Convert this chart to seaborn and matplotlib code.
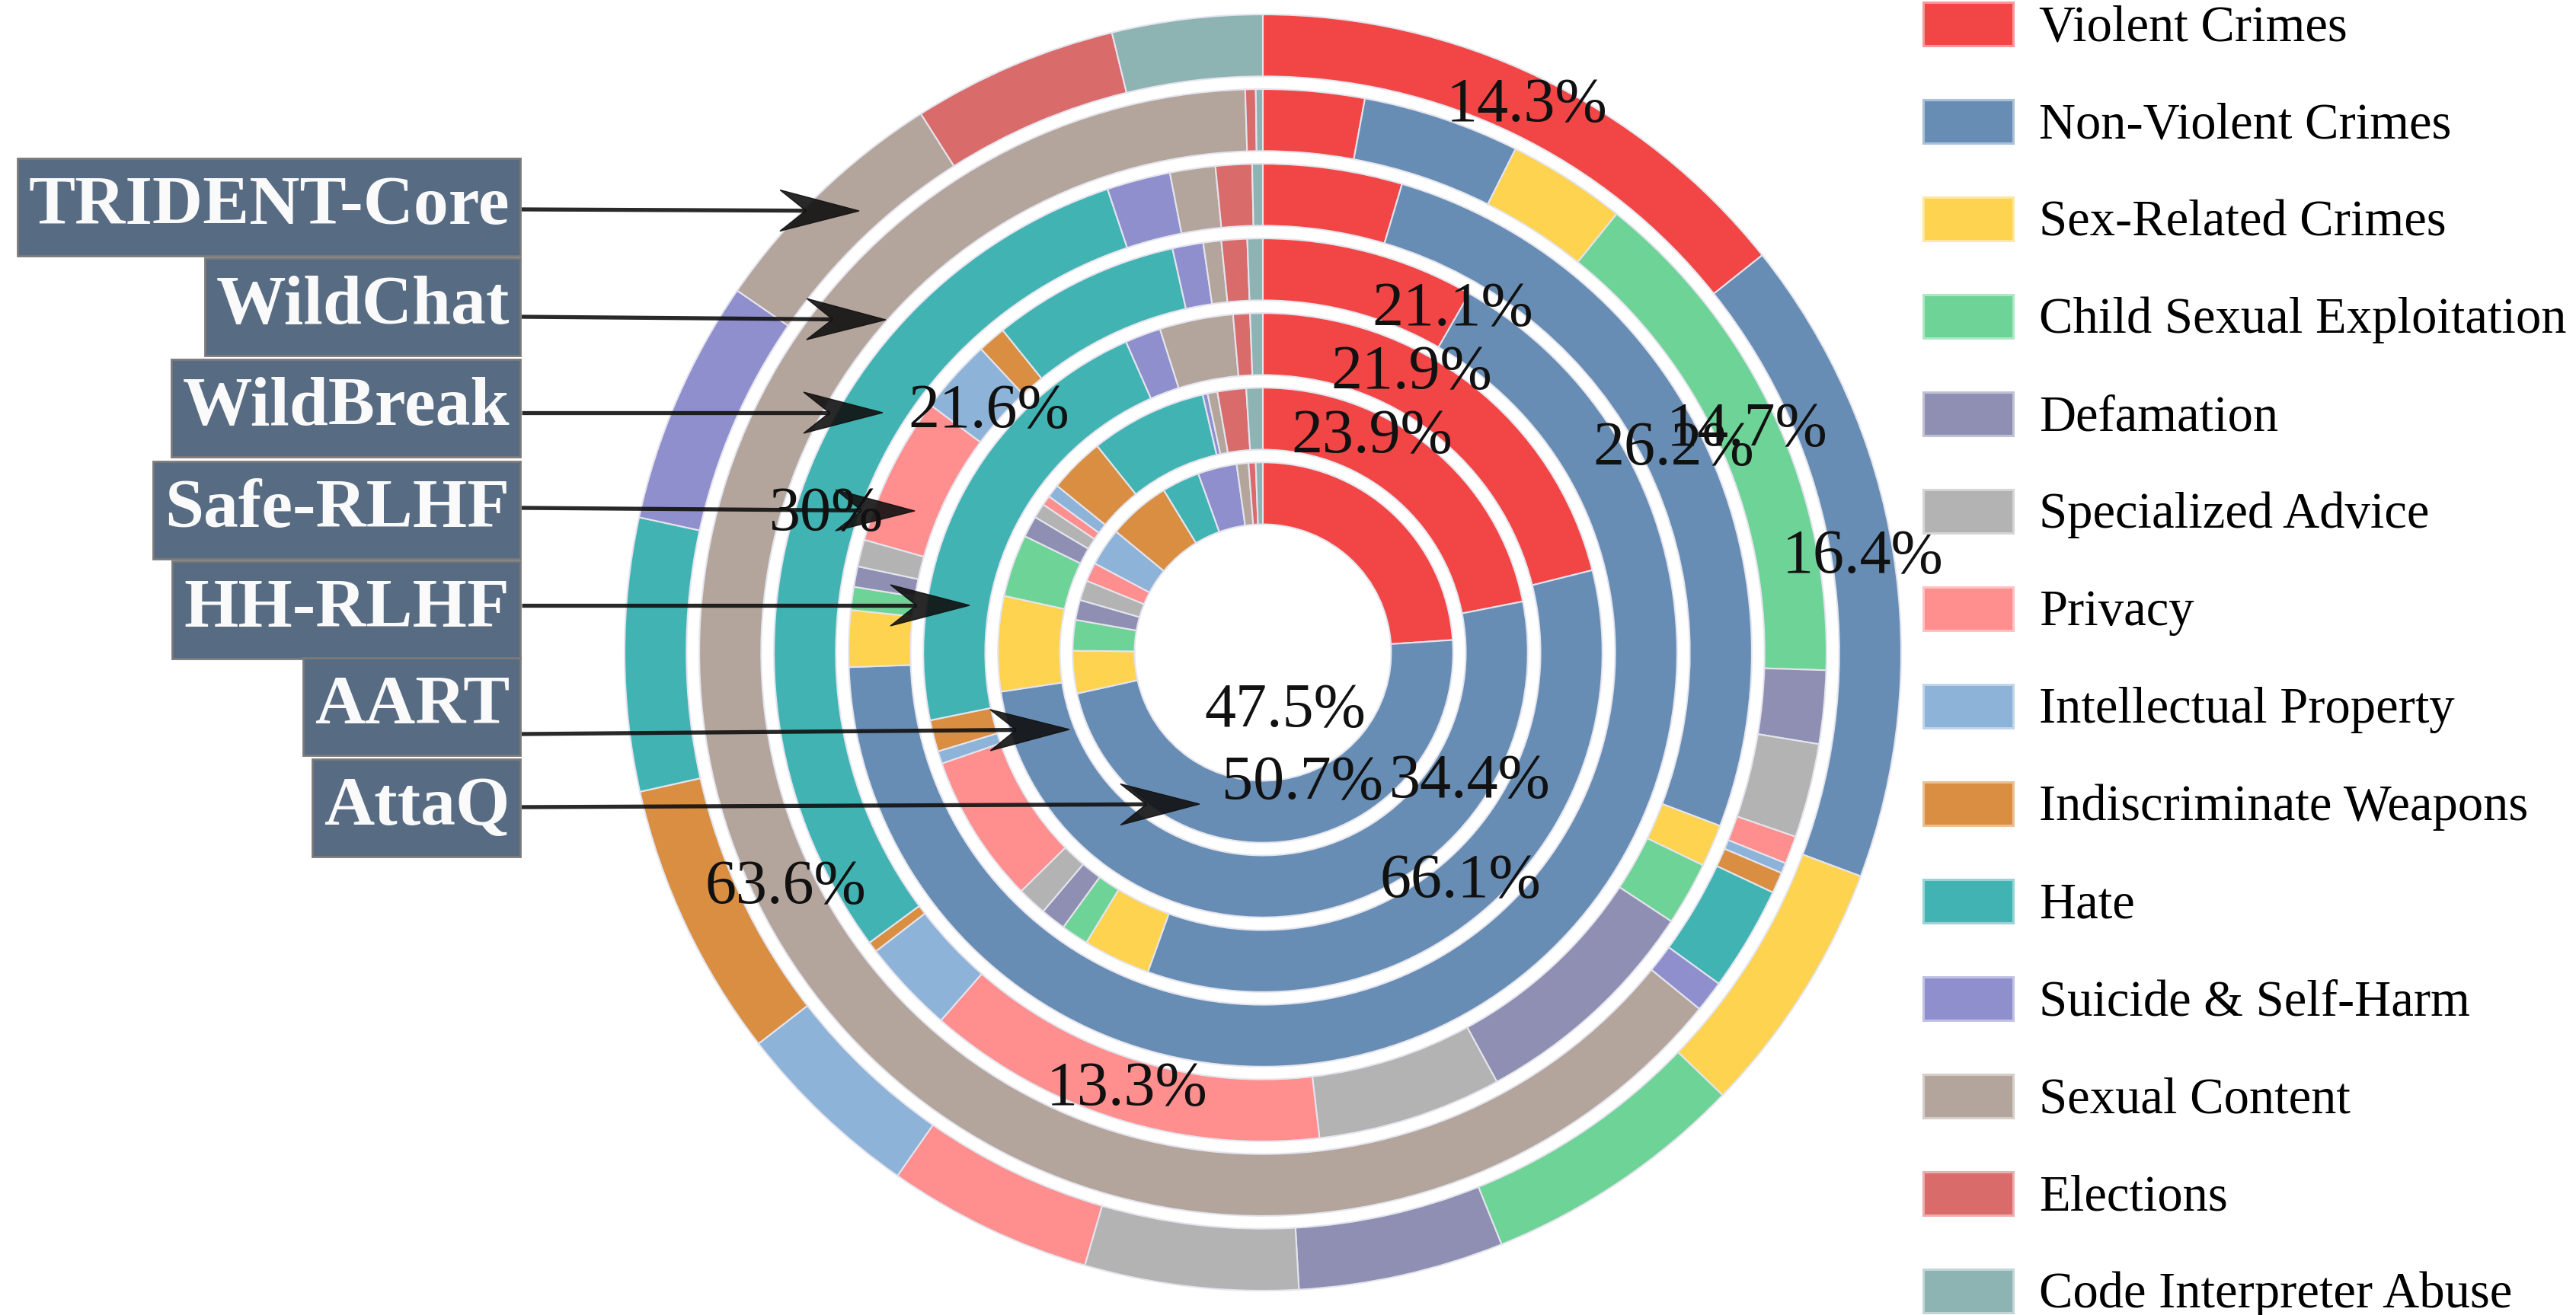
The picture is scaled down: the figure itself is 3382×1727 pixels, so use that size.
import numpy as np
import matplotlib
matplotlib.use("Agg")
import matplotlib.pyplot as plt
import matplotlib.colors as mcolors
from matplotlib.patches import Rectangle, Polygon
import seaborn as sns

# categories, clockwise from 12 o'clock
categories = ["Violent Crimes", "Non-Violent Crimes", "Sex-Related Crimes",
              "Child Sexual Exploitation", "Defamation", "Specialized Advice",
              "Privacy", "Intellectual Property", "Indiscriminate Weapons",
              "Hate", "Suicide & Self-Harm", "Sexual Content", "Elections",
              "Code Interpreter Abuse"]
palette = ["#f24545", "#678db4", "#fed34f", "#6ed396", "#8e8fb2", "#b3b3b3",
           "#ff8e8e", "#8eb3d8", "#d98e42", "#42b3b3", "#8f8fce", "#b3a59b",
           "#d96b6b", "#8eb3b3"]

# datasets from the innermost ring to the outermost one (share in %)
datasets = ["AttaQ", "AART", "HH-RLHF", "Safe-RLHF", "WildBreak", "WildChat", "TRIDENT-Core"]
attaq = [23.9, 47.5, 3.6, 2.6, 1.7, 1.7, 1.6, 3.2, 5.3, 3.2, 3.3, 1.0, 0.6, 0.6]
aart = [21.9, 50.7, 5.8, 3.8, 1.3, 0.9, 0.6, 0.8, 3.4, 7.1, 0.3, 0.6, 1.75, 1.0]
hh_rlhf = [21.1, 34.4, 3.2, 1.3, 1.2, 1.4, 7.1, 0.6, 1.5, 21.6, 1.7, 3.5, 0.8, 0.6]
safe_rlhf = [8.3, 66.1, 2.2, 0.9, 0.8, 1.05, 5.8, 2.9, 1.1, 7.3, 1.2, 0.7, 1.0, 0.6]
wildbreak = [4.6, 26.2, 1.4, 2.1, 7.8, 6.1, 13.3, 3.1, 0.35, 30.0, 2.1, 1.5, 1.2, 0.35]
wildchat = [2.9, 4.5, 3.4, 14.7, 2.1, 2.7, 0.8, 0.3, 0.6, 3.0, 0.9, 63.6, 0.3, 0.2]
trident = [14.3, 16.4, 6.5, 6.7, 5.2, 5.4, 5.2, 4.8, 7.0, 6.9, 6.2, 6.4, 5.2, 3.8]
rings = [attaq, aart, hh_rlhf, safe_rlhf, wildbreak, wildchat, trident]

# layout / style
W, H = 3382, 1727
ring_width = 0.097
ring_step = 0.117
label_min = 10          # only shares above this get a % label
label_shift = [0.155, 0.155, 0.155, 0.155, 0, 0, 0]   # label offsets per ring
box_y = [272, 403, 536, 670, 801, 928, 1061]           # outer ring first
box_h = 128
box_right = 683
arrow_y = [275, 416, 542, 667, 795, 964, 1060]
arrow_tip = [(1128, 277), (1163, 420), (1159, 542), (1201, 671),
             (1273, 795), (1404, 958), (1575, 1056)]

sns.set_theme(style="white")
plt.rcParams["font.family"] = ["Liberation Serif", "DejaVu Serif"]

fig = plt.figure(figsize=(W / 100, H / 100), dpi=100)

# pie axes: centre at (1658, 857) px, outer radius 838 px
R, cx, cy = 838, 1658, 857
ax = fig.add_axes([(cx - R) / W, (H - cy - R) / H, 2 * R / W, 2 * R / H])

for k, vals in enumerate(rings):
    radius = 1 - (len(rings) - 1 - k) * ring_step
    ax.pie(vals, radius=radius, colors=palette, startangle=90, counterclock=False,
           wedgeprops=dict(width=ring_width, edgecolor="#e4e4ee", linewidth=1.5))
    vals = np.array(vals, dtype=float)
    mids = 360 * (np.cumsum(vals) - vals / 2) / vals.sum()
    rm = radius - ring_width / 2
    for v, th in zip(vals, mids):
        if v < label_min:
            continue
        t = np.deg2rad(th)
        ax.text(rm * np.sin(t), rm * np.cos(t) + label_shift[k], f"{round(v, 1):g}%",
                ha="center", va="center", fontsize=59, color="#111111", zorder=10)

ax.set_xlim(-1, 1)
ax.set_ylim(-1, 1)
ax.set_aspect("equal")
ax.axis("off")

# overlay in pixel coordinates for the name boxes, arrows and legend
ov = fig.add_axes([0, 0, 1, 1], zorder=5)
ov.set_xlim(0, W)
ov.set_ylim(H, 0)
ov.axis("off")

names = datasets[::-1]
renderer = fig.canvas.get_renderer()
for name, yb, ya, (tx, ty) in zip(names, box_y, arrow_y, arrow_tip):
    t = ov.text(box_right - 14, yb, name, ha="right", va="center", fontsize=66,
                fontweight="bold", color="#fafafa", zorder=3)
    ext = t.get_window_extent(renderer=renderer)
    left = ext.x0 - 15
    ov.add_patch(Rectangle((left, yb - box_h / 2), box_right - left, box_h,
                           fc="#576b83", ec="#7a7a7a", lw=2, zorder=2))
    sx, sy = box_right + 2, ya
    u = np.array([tx - sx, ty - sy], dtype=float)
    u /= np.hypot(*u)
    n = np.array([-u[1], u[0]])
    tip = np.array([tx, ty], dtype=float)
    L, hw, notch = 104, 27, 34
    ov.plot([sx, tip[0] - (L - notch) * u[0]], [sy, tip[1] - (L - notch) * u[1]],
            color="#111111", lw=3.8, alpha=0.9, solid_capstyle="butt", zorder=4)
    head = [tip, tip - L * u + hw * n, tip - (L - notch) * u, tip - L * u - hw * n]
    ov.add_patch(Polygon(head, closed=True, fc="#111111", ec="#111111", lw=1,
                         alpha=0.9, zorder=4))

# legend
for i, (cat, col) in enumerate(zip(categories, palette)):
    yc = 31 + 128 * i
    edge = 0.55 * np.array(mcolors.to_rgb(col)) + 0.45
    ov.add_patch(Rectangle((2525, yc - 28.5), 118, 57, fc=col, ec=edge, lw=2.2))
    ov.text(2677, yc + 22, cat, ha="left", va="baseline", fontsize=48, color="black")

fig.savefig("out.png", dpi=100)
